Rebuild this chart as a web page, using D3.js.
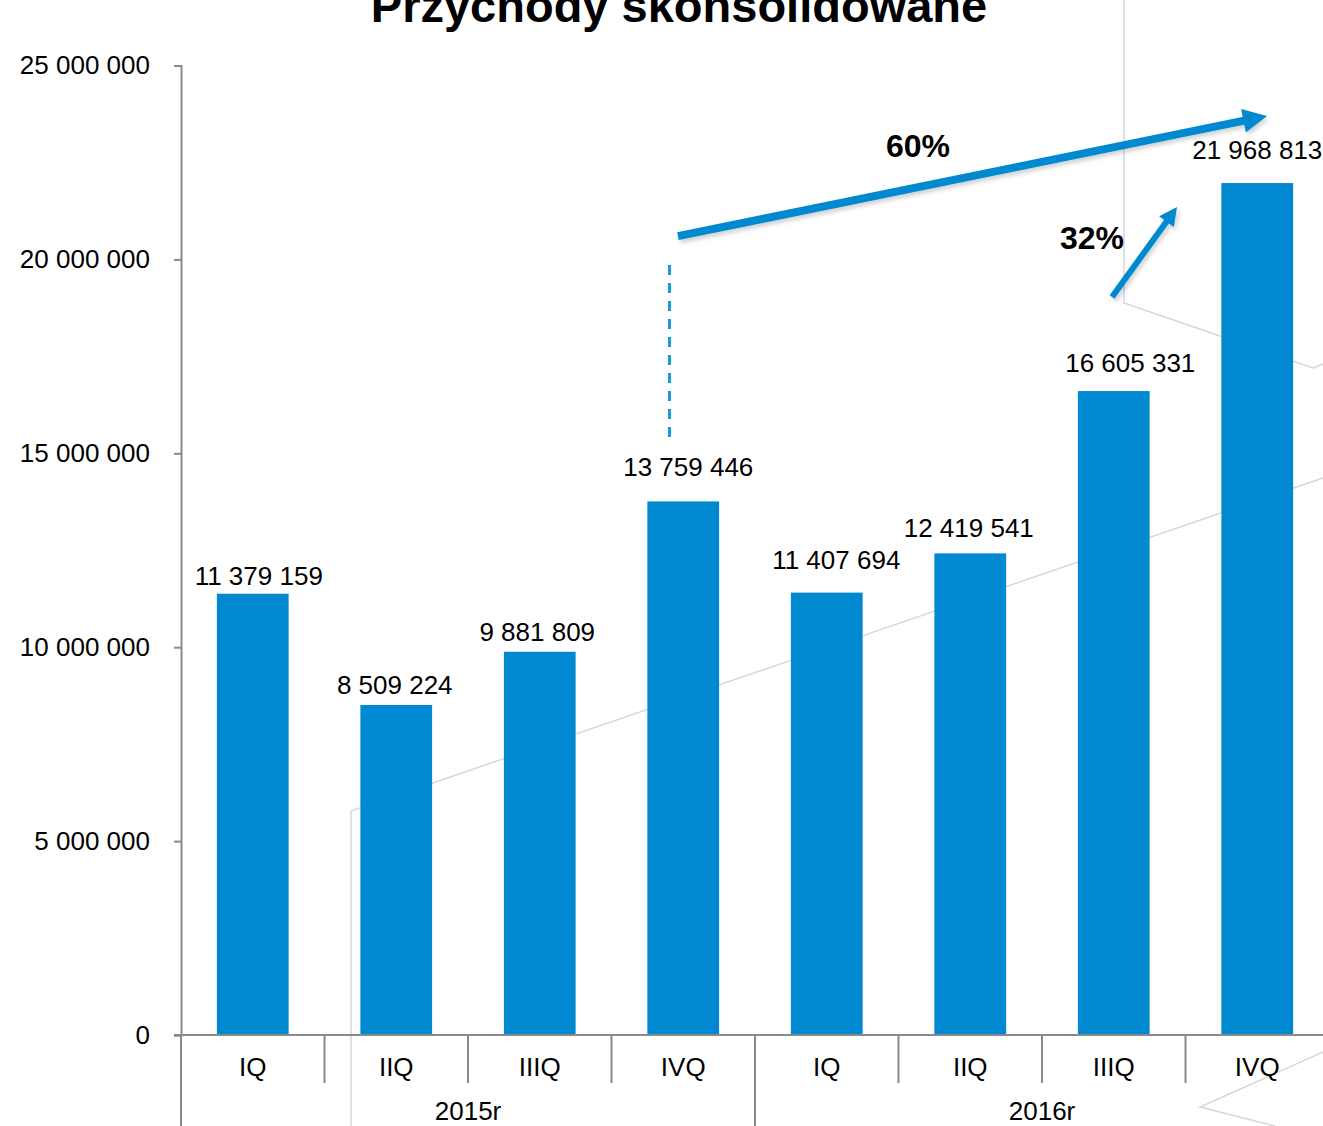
<!DOCTYPE html>
<html>
<head>
<meta charset="utf-8">
<script src="https://cdn.jsdelivr.net/npm/d3@7"></script>
<style>
  body { margin: 0; background: #fff; }
  svg { display: block; font-family: "Liberation Sans", Arial, sans-serif; }
</style>
</head>
<body>
<div id="chart"></div>
<script>
// data
var quarters = ["IQ", "IIQ", "IIIQ", "IVQ", "IQ", "IIQ", "IIIQ", "IVQ"];
var years = ["2015r", "2016r"];
var revenue = [11379159, 8509224, 9881809, 13759446, 11407694, 12419541, 16605331, 21968813];
var yTicks = [0, 5000000, 10000000, 15000000, 20000000, 25000000];

// annotations, in (category index, value) terms
var growthArrows = [
  {label: "60%", from: [3.463, 20600000], to: [7.568, 23700000], width: 8, head: 24, text: [5.136, 22640000]},
  {label: "32%", from: [6.488, 19030000], to: [6.941, 21350000], width: 6, head: 18, text: [6.348, 20270000]}
];
var dashRef = {x: 3.404, from: 15420000, to: 20040000};

// layout: the slide's data labels were dragged by hand, [dx, gap above bar]
var labelNudge = [[6, 9], [-1.5, 11], [-2.5, 11], [5, 25], [9.5, 24], [-1.5, 16], [16.5, 19], [0, 24]];

var width = 1323, height = 1126;
var margin = {top: 65.5, right: -6, bottom: 91, left: 181};
var blue = "#0089d0";

var svg = d3.select("#chart").append("svg")
    .attr("width", width)
    .attr("height", height);

// faint slide background decoration
var deco = svg.append("g").attr("fill", "none").attr("stroke", "#d6d6de").attr("stroke-width", 1.5);
deco.append("path").attr("d", "M351,1126 V811 L1323,478");
deco.append("path").attr("d", "M1124,0 V303 L1313,368 L1323,364");
deco.append("path").attr("d", "M1323,1052 L1200,1107 L1275,1126");

var ids = d3.range(revenue.length);

var x = d3.scaleBand()
    .domain(ids)
    .range([margin.left, width - margin.right]);

// fractional category position for annotations
var xi = d3.scaleLinear()
    .domain([0, revenue.length])
    .range([margin.left, width - margin.right]);

var y = d3.scaleLinear()
    .domain([0, 25000000])
    .range([height - margin.bottom, margin.top]);

var fmt = function(v) { return d3.format(",")(v).replace(/,/g, " "); };

// y axis
var yAxis = svg.append("g")
    .attr("transform", "translate(" + margin.left + ",0)")
    .call(d3.axisLeft(y).tickValues(yTicks).tickSize(7).tickPadding(24).tickFormat(fmt));
yAxis.select(".domain").attr("stroke", "#8a8a8a").attr("stroke-width", 2);
yAxis.selectAll(".tick line").attr("stroke", "#8a8a8a").attr("stroke-width", 2);
yAxis.selectAll("text").attr("fill", "#000").style("font-size", "26px")
    .style("font-family", "'Liberation Sans', Arial, sans-serif");

// bars
var bw = x.bandwidth() * 0.5;
svg.selectAll("rect.bar")
    .data(revenue)
    .join("rect")
    .attr("class", "bar")
    .attr("x", (d, i) => x(i) + x.bandwidth() * 0.25)
    .attr("y", d => y(d))
    .attr("width", bw)
    .attr("height", d => y(0) - y(d))
    .attr("fill", blue);

// value labels
svg.selectAll("text.val")
    .data(revenue)
    .join("text")
    .attr("class", "val")
    .attr("x", (d, i) => x(i) + x.bandwidth() / 2 + labelNudge[i][0])
    .attr("y", (d, i) => y(d) - labelNudge[i][1])
    .attr("text-anchor", "middle")
    .style("font-size", "26px")
    .attr("fill", "#000")
    .text(fmt);

// x axis: line, separators, labels
var x0 = y(0);
var axisG = svg.append("g").attr("stroke", "#8a8a8a").attr("stroke-width", 2);
axisG.append("line")
    .attr("x1", margin.left - 7).attr("x2", width)
    .attr("y1", x0).attr("y2", x0);
ids.forEach(function(i) {
  var yearStart = i % 4 == 0;
  axisG.append("line")
      .attr("x1", x(i)).attr("x2", x(i))
      .attr("y1", x0).attr("y2", yearStart ? height : x0 + 48);
});

svg.selectAll("text.q")
    .data(quarters)
    .join("text")
    .attr("class", "q")
    .attr("x", (d, i) => x(i) + x.bandwidth() / 2)
    .attr("y", x0 + 41)
    .attr("text-anchor", "middle")
    .style("font-size", "26px")
    .text(d => d);

svg.selectAll("text.yr")
    .data(years)
    .join("text")
    .attr("class", "yr")
    .attr("x", (d, i) => x(i * 4) + x.bandwidth() * 2)
    .attr("y", x0 + 85)
    .attr("text-anchor", "middle")
    .style("font-size", "26px")
    .text(d => d);

// title (cut off at top like the slide)
svg.append("text")
    .attr("x", 679)
    .attr("y", 22)
    .attr("text-anchor", "middle")
    .style("font-size", "47px")
    .style("font-weight", "bold")
    .text("Przychody skonsolidowane");

// annotations
var defs = svg.append("defs");
var f = defs.append("filter").attr("id", "sh").attr("x", "-20%").attr("y", "-50%").attr("width", "140%").attr("height", "200%");
f.append("feDropShadow").attr("dx", 2).attr("dy", 3).attr("stdDeviation", 2)
    .attr("flood-color", "#000").attr("flood-opacity", 0.18);

svg.append("line")
    .attr("x1", xi(dashRef.x)).attr("x2", xi(dashRef.x))
    .attr("y1", y(dashRef.from)).attr("y2", y(dashRef.to))
    .attr("stroke", "#1a9ad8")
    .attr("stroke-width", 3)
    .attr("stroke-dasharray", "10,8");

growthArrows.forEach(function(a) {
  var sx = xi(a.from[0]), sy = y(a.from[1]);
  var tx = xi(a.to[0]), ty = y(a.to[1]);
  var ang = Math.atan2(ty - sy, tx - sx);
  var bx = tx - a.head * Math.cos(ang), by = ty - a.head * Math.sin(ang);
  var px = -Math.sin(ang), py = Math.cos(ang);
  var hw = a.head * 0.5;
  var g = svg.append("g").attr("filter", "url(#sh)");
  g.append("line")
      .attr("x1", sx).attr("y1", sy)
      .attr("x2", bx + 2 * Math.cos(ang)).attr("y2", by + 2 * Math.sin(ang))
      .attr("stroke", blue)
      .attr("stroke-width", a.width);
  g.append("polygon")
      .attr("points", [[tx, ty], [bx + px * hw, by + py * hw], [bx - px * hw, by - py * hw]].join(" "))
      .attr("fill", blue);
  svg.append("text")
      .attr("x", xi(a.text[0]))
      .attr("y", y(a.text[1]))
      .attr("text-anchor", "middle")
      .style("font-size", "32px")
      .style("font-weight", "bold")
      .text(a.label);
});
</script>
</body>
</html>
